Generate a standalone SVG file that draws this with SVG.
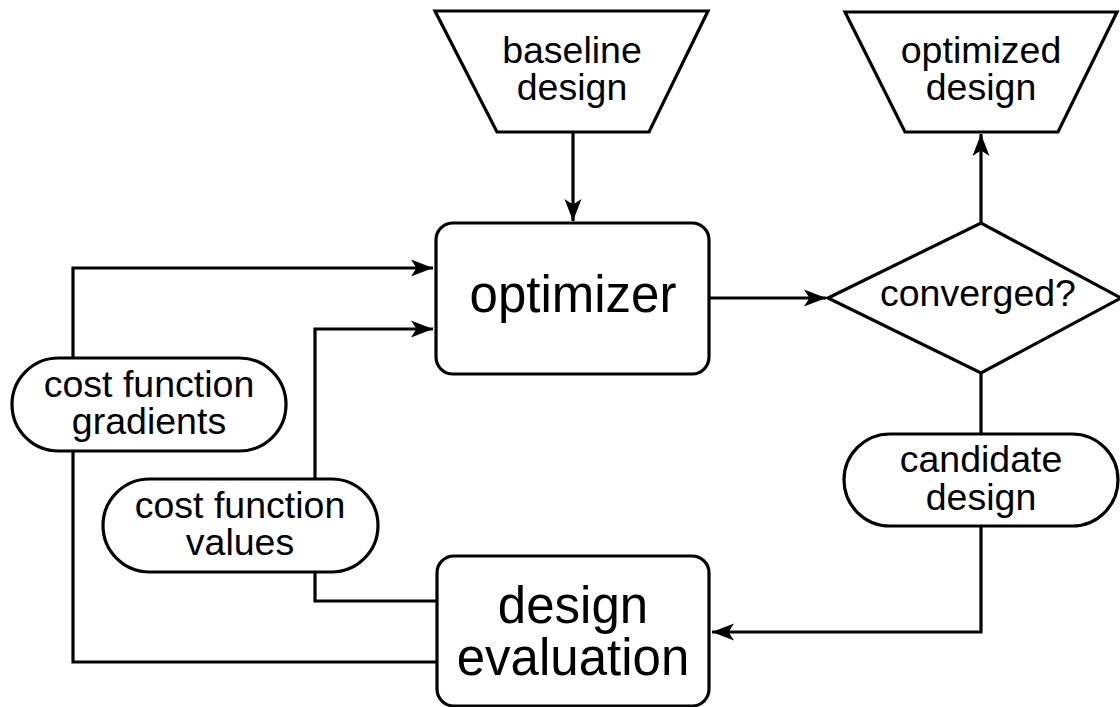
<svg xmlns="http://www.w3.org/2000/svg" width="1120" height="707" viewBox="0 0 1120 707">
  <style>
    .shape { fill: #ffffff; stroke: #000000; stroke-width: 3.2; stroke-linejoin: miter; }
    .wire { fill: none; stroke: #000000; stroke-width: 3.2; }
    .lbl { font-family: "Liberation Sans", Arial, sans-serif; font-size: 37.5px; fill: #000000; text-anchor: middle; }
    .big { font-size: 51px; }
  </style>
  <defs>
    <marker id="arrow" markerUnits="userSpaceOnUse" markerWidth="24" markerHeight="20" viewBox="-22 -10 24 20" refX="0" refY="0" orient="auto">
      <path d="M0,0 L-22,-8.5 L-16.5,0 L-22,8.5 Z" fill="#000000"/>
    </marker>
  </defs>

  <!-- connectors -->
  <g id="connectors">
    <line class="wire" x1="573" y1="132" x2="573" y2="221" marker-end="url(#arrow)"/>
    <line class="wire" x1="709" y1="298" x2="826" y2="298" marker-end="url(#arrow)"/>
    <line class="wire" x1="981" y1="223" x2="981" y2="134" marker-end="url(#arrow)"/>
    <line class="wire" x1="981" y1="373" x2="981" y2="434"/>
    <polyline class="wire" points="981,526 981,632 712,632" marker-end="url(#arrow)"/>
    <polyline class="wire" points="73,358 73,268 433,268" marker-end="url(#arrow)"/>
    <polyline class="wire" points="315,479 315,329 433,329" marker-end="url(#arrow)"/>
    <polyline class="wire" points="315,572 315,601 437,601"/>
    <polyline class="wire" points="73,451 73,662 437,662"/>
  </g>

  <g id="baseline-design">
    <polygon class="shape" points="435,11 708,11 649,132 497,132"/>
    <text class="lbl" x="572" y="63">baseline</text>
    <text class="lbl" x="572" y="100">design</text>
  </g>

  <g id="optimized-design">
    <polygon class="shape" points="845,12 1117,12 1058,132 905,132"/>
    <text class="lbl" x="981" y="63">optimized</text>
    <text class="lbl" x="981" y="100">design</text>
  </g>

  <g id="optimizer">
    <rect class="shape" x="436" y="223" width="273" height="151" rx="17"/>
    <text class="lbl big" x="573" y="312">optimizer</text>
  </g>

  <g id="converged">
    <polygon class="shape" points="828,298 981,223 1121,298 981,373"/>
    <text class="lbl" x="978" y="306">converged?</text>
  </g>

  <g id="candidate-design">
    <rect class="shape" x="844" y="434" width="274" height="92" rx="46"/>
    <text class="lbl" x="981" y="472">candidate</text>
    <text class="lbl" x="981" y="510">design</text>
  </g>

  <g id="design-evaluation">
    <rect class="shape" x="437" y="556" width="272" height="150" rx="17"/>
    <text class="lbl big" x="573" y="623">design</text>
    <text class="lbl big" x="573" y="675">evaluation</text>
  </g>

  <g id="cost-function-gradients">
    <rect class="shape" x="12" y="358" width="274" height="93" rx="46.5"/>
    <text class="lbl" x="149" y="397">cost function</text>
    <text class="lbl" x="149" y="434">gradients</text>
  </g>

  <g id="cost-function-values">
    <rect class="shape" x="103" y="479" width="275" height="93" rx="46.5"/>
    <text class="lbl" x="240" y="518">cost function</text>
    <text class="lbl" x="240" y="555">values</text>
  </g>
</svg>
